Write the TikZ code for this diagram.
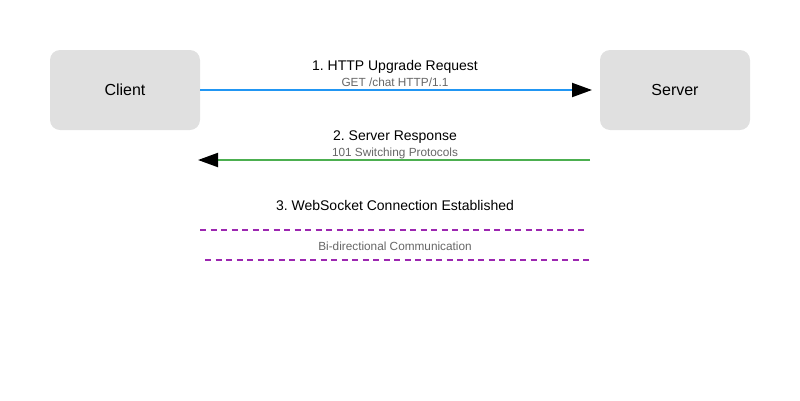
\documentclass[tikz,border=0pt]{standalone}
\usepackage{fontspec}
\setmainfont{Liberation Sans}
\usetikzlibrary{arrows.meta}
\frenchspacing
\definecolor{boxgray}{HTML}{E0E0E0}
\definecolor{reqblue}{HTML}{2196F3}
\definecolor{resgreen}{HTML}{4CAF50}
\definecolor{wspurple}{HTML}{9C27B0}
\definecolor{subgray}{HTML}{666666}
\tikzset{
  party/.style={draw=none, fill=boxgray, rounded corners=10pt, minimum width=150pt, minimum height=80pt, inner sep=0pt, font=\fontsize{16}{19}\selectfont},
  title/.style={anchor=base, inner sep=0pt, font=\fontsize{14}{17}\selectfont, text=black},
  sub/.style={anchor=base, inner sep=0pt, font=\fontsize{11.8}{14}\selectfont, text=subgray},
  tip/.style={-{Triangle[length=20pt,width=14pt,black]}},
  msg/.style={line width=2pt, tip},
  wsline/.style={line width=2pt, wspurple, dash pattern=on 6pt off 4.5pt}
}
\begin{document}
\begin{tikzpicture}[x=1pt,y=-1pt]
\useasboundingbox (0,0) rectangle (800,400);
\node[party] (client) at (125,90) {Client};
\node[party] (server) at (675,90) {Server};
\coordinate (reqend) at (592,90);
\coordinate (resstart) at (590,160);
\coordinate (resend) at (198,160);
\draw[msg, reqblue] (client.east) -- (reqend);
\node[title] (t1) at (395,70.5) {1. HTTP Upgrade Request};
\node[sub] (s1) at (395,86) {GET /chat HTTP/1.1};
\draw[msg, resgreen] (resstart) -- (resend);
\node[title] (t2) at (395,140.5) {2. Server Response};
\node[sub] (s2) at (395,156) {101 Switching Protocols};
\node[title] (t3) at (395,210.5) {3. WebSocket Connection Established};
\coordinate (w1a) at (200,230);
\coordinate (w1b) at (585,230);
\coordinate (w2a) at (205,260);
\coordinate (w2b) at (590,260);
\draw[wsline] (w1a) -- (w1b);
\node[sub] (s3) at (395,250) {Bi-directional Communication};
\draw[wsline] (w2a) -- (w2b);
\end{tikzpicture}
\end{document}
